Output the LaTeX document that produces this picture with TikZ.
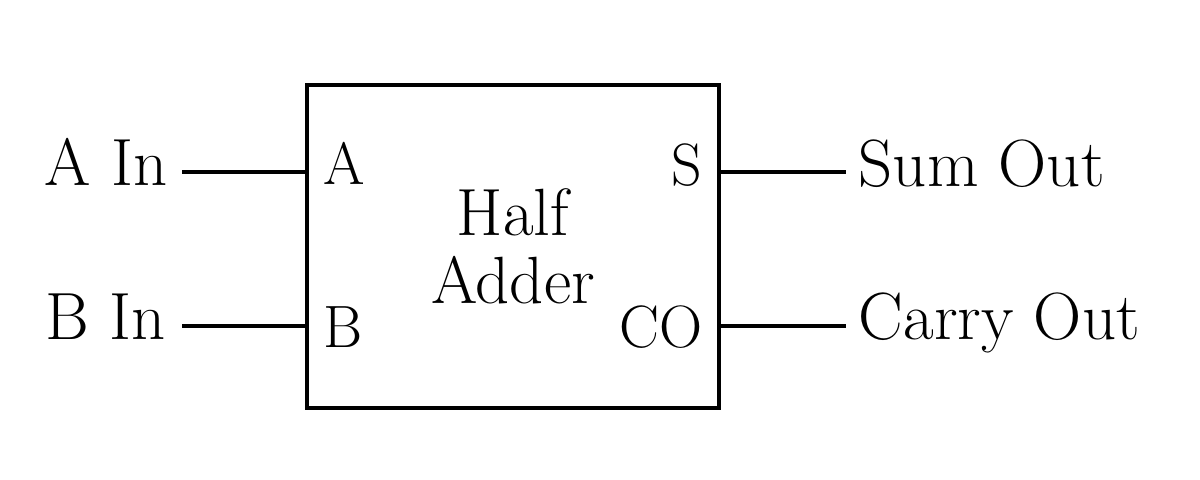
\documentclass[tikz,border=0pt]{standalone}
\usepackage{tikz}
\usetikzlibrary{positioning}
\tikzstyle{block}=[rectangle,draw,line width=1.2pt,minimum width=4.12cm,minimum height=3.23cm,inner sep=0pt]
\tikzstyle{wire} = [draw,line width=1.2pt]
\tikzstyle{sig} = [font=\fontsize{19}{19}\selectfont,inner sep=0pt]
\tikzstyle{pin} = [font=\fontsize{17}{17}\selectfont,inner sep=0pt]
\tikzset{title/.style={align=center,font=\fontsize{19}{19.5}\selectfont,inner sep=0pt}}

\begin{document}
\begin{tikzpicture}[x=0.01cm,y=-0.01cm]
\useasboundingbox (0,0) rectangle (1200,480);

 %block
 \node[block] (ha) at (513,246.5) {};
 \node[title] (name) at (ha.center) {Half\\Adder};

 %pins
 \foreach \x/\y/\name/\anc/\label in {323/185/pA/base west/A, 323/348/pB/base west/B,
                                      703/186/pS/base east/S, 703/348/pCO/base east/CO}
   \node[pin,anchor=\anc] (\name) at (\x,\y) {\label};

 %signals
 \foreach \x/\y/\name/\anc/\label in {168/186/ain/base east/A In, 166/340/bin/base east/B In,
                                      858/187/sout/base west/Sum Out, 858/340/cout/base west/Carry Out}
   \node[sig,anchor=\anc] (\name) at (\x,\y) {\label};

 %wire ends
 \foreach \x/\y/\name in {182/172/wa, 307/172/inA, 182/326/wb, 307/326/inB,
                          719/172/outS, 846/172/ws, 719/326/outC, 846/326/wc}
   \coordinate (\name) at (\x,\y);

 \foreach \source/ \dest in {wa/inA, wb/inB, outS/ws, outC/wc}
   \path[wire] (\source) -- (\dest);

\end{tikzpicture}
\end{document}
